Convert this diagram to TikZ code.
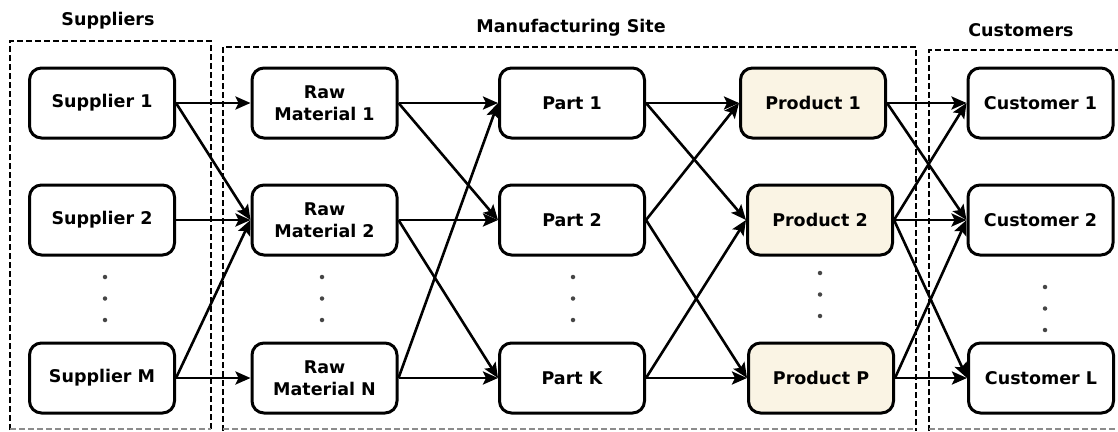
\documentclass[tikz,border=0pt]{standalone}
\usepackage{fontspec}
\setmainfont{DejaVu Sans}
\usetikzlibrary{arrows.meta}
\definecolor{prodfill}{RGB}{250,244,228}
\definecolor{dotgray}{RGB}{70,70,70}
\tikzset{
  unit/.style={draw, line width=3pt, rounded corners=12pt, minimum width=145pt,
    minimum height=70pt, align=center, inner sep=0pt,
    font=\fontsize{17.5}{22}\selectfont\bfseries},
  product/.style={unit, fill=prodfill},
  flow/.style={line width=2.6pt, -{Stealth[length=15pt,width=13pt,inset=3pt]}},
  zone/.style={line width=2.6pt, dash pattern=on 6pt off 3pt},
  zonebase/.style={line width=1.8pt, dash pattern=on 6pt off 3pt, black!45},
  title/.style={font=\fontsize{17.5}{22}\selectfont\bfseries},
  gap/.style={circle, fill=dotgray, inner sep=0pt, minimum size=4.5pt}
}
\begin{document}
\begin{tikzpicture}[x=1pt, y=-1pt]
\useasboundingbox (0,0) rectangle (1118,431);
\clip (0,0) rectangle (1118,431);

% site boundaries
\draw[zone] (10,430) -- (10,41) -- (211,41) -- (211,431);
\draw[zonebase] (10,429) -- (211,429);
\draw[zone] (223,431) -- (223,47) -- (916,47) -- (916,431);
\draw[zonebase] (223,429) -- (916,429);
\draw[zone] (929,431) -- (929,50) -- (1130,50);
\draw[zonebase] (929,429) -- (1130,429);

% titles
\node[title] (tSup) at (108,21) {Suppliers};
\node[title] (tMan) at (571,28) {Manufacturing Site};
\node[title] (tCus) at (1021,30) {Customers};

% suppliers
\node[unit] (s1) at (102,103) {Supplier 1};
\node[unit] (s2) at (102,220) {Supplier 2};
\node[unit] (sm) at (102,378) {Supplier M};

% raw materials
\node[unit] (r1) at (324.5,103) {Raw\\Material 1};
\node[unit] (r2) at (324.5,220) {Raw\\Material 2};
\node[unit] (rn) at (324.5,378) {Raw\\Material N};

% parts
\node[unit] (p1) at (572,103) {Part 1};
\node[unit] (p2) at (572,220) {Part 2};
\node[unit] (pk) at (572,378) {Part K};

% products
\node[product] (d1) at (813,103) {Product 1};
\node[product] (d2) at (820,220) {Product 2};
\node[product] (dp) at (821,378) {Product P};

% customers
\node[unit] (c1) at (1040.5,103) {Customer 1};
\node[unit] (c2) at (1040.5,220) {Customer 2};
\node[unit] (cl) at (1041,378) {Customer L};

% elided rows
\foreach \x/\y/\n in {105/277/sup, 322/277/raw, 573/277/part, 820/273/prod, 1045/287/cust}{
  \node[gap] (gap-\n-1) at (\x,\y) {};
  \node[gap] (gap-\n-2) at (\x,\y+21.5) {};
  \node[gap] (gap-\n-3) at (\x,\y+43) {};
}

% supplier -> raw material
\draw[flow] (s1.east) -- (r1.west);
\draw[flow] (s1.east) -- (r2.west);
\draw[flow] (s2.east) -- (r2.west);
\draw[flow] (sm.east) -- (r2.west);
\draw[flow] (sm.east) -- (rn.west);

% raw material -> part
\draw[flow] (r1.east) -- (p1.west);
\draw[flow] (r1.east) -- (p2.west);
\draw[flow] (r2.east) -- (p2.west);
\draw[flow] (r2.east) -- (pk.west);
\draw[flow] (rn.east) -- (p1.west);
\draw[flow] (rn.east) -- (pk.west);

% part -> product
\draw[flow] (p1.east) -- (d1.west);
\draw[flow] (p1.east) -- (d2.west);
\draw[flow] (p2.east) -- (d1.west);
\draw[flow] (p2.east) -- (dp.west);
\draw[flow] (pk.east) -- (d2.west);
\draw[flow] (pk.east) -- (dp.west);

% product -> customer
\draw[flow] (d1.east) -- (c1.west);
\draw[flow] (d1.east) -- (c2.west);
\draw[flow] (d2.east) -- (c1.west);
\draw[flow] (d2.east) -- (c2.west);
\draw[flow] (d2.east) -- (cl.west);
\draw[flow] (dp.east) -- (c2.west);
\draw[flow] (dp.east) -- (cl.west);
\end{tikzpicture}
\end{document}
